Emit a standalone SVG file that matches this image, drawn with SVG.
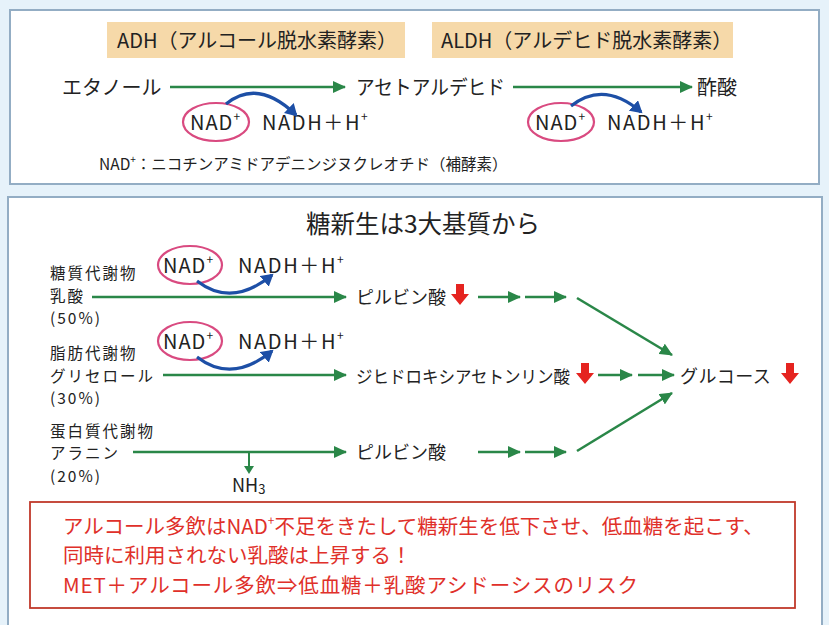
<svg xmlns="http://www.w3.org/2000/svg" width="829" height="625" viewBox="0 0 829 625">
<defs>
<style>
text{font-family:"Noto Sans CJK JP","Noto Sans",sans-serif;fill:#222;}
.box{fill:#ffffff;stroke:#93adc4;stroke-width:2;}
.lab{fill:#f6d9a9;}
.t20{font-size:20px;}
.t18{font-size:18px;}
.src{font-size:15.5px;letter-spacing:2px;}
.nad{font-size:20px;letter-spacing:1px;}
.nadh{font-size:20px;letter-spacing:1.6px;}
.g{stroke:#2a8748;stroke-width:2.6;fill:none;marker-end:url(#ga);}
.b{stroke:#1d4fa6;stroke-width:3.2;fill:none;marker-end:url(#ba);}
.ell{fill:none;stroke:#d94a80;stroke-width:2.2;}
.red{fill:#e52420;}
.rt{fill:#e0302a;font-size:20.5px;}
</style>
<marker id="ga" markerUnits="userSpaceOnUse" markerWidth="14" markerHeight="12" refX="12" refY="6" orient="auto">
<path d="M0,0 L13,6 L0,12 Z" fill="#2a8748"/>
</marker>
<marker id="ba" markerUnits="userSpaceOnUse" markerWidth="14" markerHeight="14" refX="10" refY="7" orient="auto">
<path d="M0,0 L12,7 L0,14 Z" fill="#1d4fa6"/>
</marker>
<path id="down" d="M-4,0 h8 v10 h5 l-9,11 l-9,-11 h5 z"/>
</defs>
<rect width="829" height="625" fill="#e6f2fa"/>

<g id="alcohol-panel">
<rect class="box" x="10" y="10" width="809" height="174"/>
<g id="adh-label"><rect class="lab" x="107" y="22" width="298" height="36"/><text class="t20" x="117" y="48">ADH（アルコール脱水素酵素）</text></g>
<g id="aldh-label"><rect class="lab" x="432" y="22" width="301" height="36"/><text class="t20" x="441" y="48">ALDH（アルデヒド脱水素酵素）</text></g>
<g id="ethanol"><text class="t20" x="62" y="95">エタノール</text></g>
<g id="acetaldehyde"><text class="t20" x="356" y="95" textLength="149" lengthAdjust="spacingAndGlyphs">アセトアルデヒド</text></g>
<g id="acetate"><text class="t20" x="697" y="95">酢酸</text></g>
<g id="nad1"><ellipse class="ell" cx="216" cy="122" rx="33" ry="19"/><text class="nad" x="190" y="130">NAD<tspan font-size="12" dy="-9">+</tspan></text></g>
<g id="nadh1"><text class="nadh" x="262" y="130">NADH＋H<tspan font-size="12" dy="-9">+</tspan></text></g>
<g id="nad2"><ellipse class="ell" cx="561" cy="122" rx="33" ry="19"/><text class="nad" x="535" y="130">NAD<tspan font-size="12" dy="-9">+</tspan></text></g>
<g id="nadh2"><text class="nadh" x="607" y="130">NADH＋H<tspan font-size="12" dy="-9">+</tspan></text></g>
<g id="footnote"><text x="99" y="170" font-size="15.5">NAD<tspan font-size="10" dy="-7">+</tspan><tspan dy="7">：ニコチンアミドアデニンジヌクレオチド（補酵素）</tspan></text></g>
</g>

<g id="gluconeo-panel">
<rect class="box" x="8" y="197" width="814" height="440"/>
<g id="title"><text x="423" y="233" font-size="24.5" text-anchor="middle">糖新生は3大基質から</text></g>
<g id="src-lactate"><text class="src" x="50" y="279">糖質代謝物</text><text class="src" x="50" y="301.5">乳酸</text><text class="src" x="50" y="324">(50%)</text></g>
<g id="src-glycerol"><text class="src" x="50" y="359">脂肪代謝物</text><text class="src" x="50" y="381.5">グリセロール</text><text class="src" x="50" y="404">(30%)</text></g>
<g id="src-alanine"><text class="src" x="50" y="436.5">蛋白質代謝物</text><text class="src" x="50" y="459">アラニン</text><text class="src" x="50" y="481.5">(20%)</text></g>
<g id="nad3"><ellipse class="ell" cx="190" cy="265" rx="32" ry="19"/><text class="nad" x="163" y="273">NAD<tspan font-size="12" dy="-9">+</tspan></text></g>
<g id="nadh3"><text class="nadh" x="238" y="273">NADH＋H<tspan font-size="12" dy="-9">+</tspan></text></g>
<g id="nad4"><ellipse class="ell" cx="190" cy="341" rx="32" ry="19"/><text class="nad" x="163" y="349">NAD<tspan font-size="12" dy="-9">+</tspan></text></g>
<g id="nadh4"><text class="nadh" x="238" y="349">NADH＋H<tspan font-size="12" dy="-9">+</tspan></text></g>
<g id="pyruvate1"><text class="t18" x="356" y="304">ピルビン酸</text><use href="#down" class="red" x="460" y="284"/></g>
<g id="dhap"><text x="356" y="383" font-size="17.5" textLength="214" lengthAdjust="spacingAndGlyphs">ジヒドロキシアセトンリン酸</text><use href="#down" class="red" x="585" y="363"/></g>
<g id="pyruvate2"><text class="t18" x="356" y="459">ピルビン酸</text></g>
<g id="glucose"><text class="t18" x="680" y="383" letter-spacing="0.5">グルコース</text><use href="#down" class="red" x="790" y="363"/></g>
<g id="nh3"><text class="t18" x="232" y="492">NH<tspan font-size="13" dy="2">3</tspan></text></g>
</g>

<g id="connectors">
<line class="g" x1="170" y1="87" x2="345" y2="87"/>
<line class="g" x1="513" y1="87" x2="692" y2="87"/>
<path class="b" d="M226,104 Q258,78 296,115"/>
<path class="b" d="M571,106 Q604,80 641,112"/>
<line class="g" x1="92" y1="297" x2="346" y2="297"/>
<path class="b" d="M197,281 Q232,308 272,275"/>
<line class="g" x1="478" y1="297" x2="520" y2="297"/>
<line class="g" x1="525" y1="297" x2="566" y2="297"/>
<line class="g" x1="577" y1="298" x2="672" y2="355"/>
<line class="g" x1="163" y1="375" x2="346" y2="375"/>
<path class="b" d="M197,357 Q232,384 272,351"/>
<line class="g" x1="598" y1="375" x2="632" y2="375"/>
<line class="g" x1="638" y1="375" x2="674" y2="375"/>
<line class="g" x1="133" y1="452" x2="346" y2="452"/>
<path d="M249,452 V468" stroke="#2a8748" stroke-width="2" fill="none"/>
<path d="M244,466 L254,466 L249,474 Z" fill="#2a8748"/>
<line class="g" x1="478" y1="452" x2="520" y2="452"/>
<line class="g" x1="525" y1="452" x2="566" y2="452"/>
<line class="g" x1="577" y1="451" x2="672" y2="393"/>
</g>

<g id="warning">
<rect x="30" y="502" width="765" height="106" fill="#ffffff" stroke="#c0392b" stroke-width="1.8"/>
<text class="rt" x="63" y="534">アルコール多飲はNAD<tspan font-size="12" dy="-9">+</tspan><tspan dy="9">不足をきたして糖新生を低下させ、低血糖を起こす、</tspan></text>
<text class="rt" x="63" y="563">同時に利用されない乳酸は上昇する！</text>
<text class="rt" x="63" y="593" textLength="575" lengthAdjust="spacing">MET＋アルコール多飲⇒低血糖＋乳酸アシドーシスのリスク</text>
</g>
</svg>
